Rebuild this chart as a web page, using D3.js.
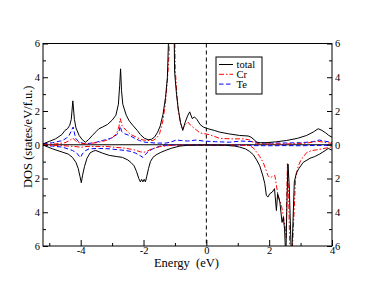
<!DOCTYPE html>
<html>
<head>
<meta charset="utf-8">
<script src="https://cdn.jsdelivr.net/npm/d3@7"></script>
<style>
  body { margin: 0; background: #fff; }
  svg { display: block; font-family: "Liberation Serif", "DejaVu Serif", serif; }
</style>
</head>
<body>
<svg id="chart" width="374" height="289"></svg>
<script>
/* ── data: [energy (eV), DOS] pairs; "down" arrays hold spin-down magnitudes ── */
const totalUp = [[-5.2,0.05],[-5.0,0.2],[-4.8,0.35],[-4.6,0.6],[-4.5,0.85],[-4.42,0.95],[-4.35,1.15],[-4.3,1.5],[-4.25,2.6],[-4.2,1.5],[-4.15,1.0],[-4.05,0.55],[-3.95,0.3],[-3.85,0.15],[-3.75,0.3],[-3.63,0.55],[-3.5,0.8],[-3.42,0.95],[-3.3,1.05],[-3.15,1.2],[-3.0,1.45],[-2.88,1.75],[-2.8,2.4],[-2.76,3.5],[-2.73,4.5],[-2.7,3.2],[-2.66,2.4],[-2.55,1.75],[-2.45,1.4],[-2.34,1.15],[-2.2,0.85],[-2.1,0.6],[-1.97,0.38],[-1.85,0.3],[-1.75,0.32],[-1.65,0.45],[-1.55,0.75],[-1.47,1.1],[-1.38,1.8],[-1.3,2.8],[-1.24,4.0],[-1.2,6.5],[-1.17,9],[-1.12,7.5],[-1.07,8],[-1.04,9],[-1.01,4.3],[-0.95,3.0],[-0.9,2.2],[-0.82,1.3],[-0.75,0.85],[-0.68,1.3],[-0.6,1.7],[-0.53,1.95],[-0.45,1.55],[-0.38,1.65],[-0.3,1.5],[-0.2,1.2],[-0.1,1.05],[0.05,0.95],[0.25,0.85],[0.42,0.75],[0.7,0.65],[1.06,0.55],[1.33,0.52],[1.42,0.45],[1.52,0.3],[1.62,0.12],[1.9,0.12],[2.2,0.17],[2.55,0.25],[2.9,0.38],[3.19,0.55],[3.4,0.75],[3.56,0.95],[3.68,0.85],[3.8,0.7],[3.9,0.55],[4.0,0.45]];
const crUp = [[-5.2,0.02],[-4.8,0.05],[-4.5,0.12],[-4.35,0.25],[-4.25,0.4],[-4.15,0.2],[-4.0,0.08],[-3.8,0.05],[-3.5,0.12],[-3.2,0.25],[-3.0,0.4],[-2.85,0.7],[-2.78,1.1],[-2.74,1.55],[-2.68,1.1],[-2.55,0.85],[-2.4,0.6],[-2.23,0.45],[-2.05,0.3],[-1.9,0.25],[-1.7,0.25],[-1.58,0.4],[-1.49,0.65],[-1.38,1.45],[-1.3,2.5],[-1.24,3.8],[-1.19,5.3],[-1.16,8],[-1.1,6.5],[-1.06,7.5],[-1.02,8],[-0.99,4.5],[-0.94,3.0],[-0.88,1.8],[-0.8,1.1],[-0.75,0.95],[-0.67,1.2],[-0.59,1.35],[-0.5,1.15],[-0.4,1.0],[-0.3,0.85],[-0.2,0.7],[0.1,0.6],[0.42,0.38],[0.8,0.35],[1.17,0.35],[1.35,0.3],[1.49,0.15],[1.6,0.06],[2.0,0.05],[2.6,0.05],[3.2,0.1],[3.55,0.2],[3.75,0.15],[4.0,0.08]];
const teUp = [[-5.2,0.05],[-4.9,0.12],[-4.58,0.25],[-4.45,0.4],[-4.37,0.55],[-4.28,0.9],[-4.24,1.05],[-4.2,0.7],[-4.16,0.38],[-4.05,0.15],[-3.9,0.08],[-3.73,0.08],[-3.5,0.15],[-3.31,0.25],[-3.1,0.35],[-2.99,0.42],[-2.85,0.6],[-2.78,0.8],[-2.74,1.1],[-2.7,0.8],[-2.6,0.65],[-2.45,0.55],[-2.3,0.4],[-2.13,0.25],[-1.95,0.15],[-1.6,0.1],[-1.28,0.1],[-1.1,0.18],[-0.96,0.28],[-0.8,0.25],[-0.6,0.22],[-0.32,0.28],[-0.1,0.22],[0.3,0.18],[0.74,0.15],[1.1,0.22],[1.5,0.18],[1.8,0.1],[2.4,0.1],[3.0,0.12],[3.4,0.18],[3.6,0.28],[3.8,0.2],[4.0,0.15]];

const totalDown = [[-5.2,0.02],[-4.9,0.24],[-4.58,0.44],[-4.4,0.55],[-4.26,0.75],[-4.15,1.05],[-4.08,1.4],[-4.02,1.9],[-3.98,2.25],[-3.94,1.8],[-3.88,1.3],[-3.8,0.8],[-3.7,0.48],[-3.6,0.38],[-3.52,0.34],[-3.3,0.5],[-3.09,0.63],[-2.85,0.7],[-2.67,0.75],[-2.5,0.9],[-2.4,1.05],[-2.3,1.25],[-2.22,1.6],[-2.15,2.0],[-2.1,2.2],[-2.06,2.05],[-2.02,2.2],[-1.98,2.05],[-1.94,2.2],[-1.9,1.9],[-1.84,1.4],[-1.78,1.0],[-1.7,0.75],[-1.6,0.6],[-1.45,0.45],[-1.28,0.32],[-1.1,0.2],[-0.85,0.08],[-0.6,0.03],[0,0.02],[0.6,0.03],[0.9,0.08],[1.06,0.14],[1.25,0.25],[1.38,0.4],[1.5,0.6],[1.6,0.9],[1.7,1.25],[1.8,1.85],[1.86,2.3],[1.91,3.0],[1.96,3.1],[2.02,2.9],[2.1,2.8],[2.17,2.6],[2.23,3.9],[2.27,2.9],[2.34,3.4],[2.41,4.6],[2.45,4.3],[2.49,5.0],[2.53,6.8],[2.57,3.0],[2.6,1.15],[2.64,2.5],[2.68,5.0],[2.71,7],[2.75,5],[2.8,2.2],[2.87,1.65],[2.95,1.4],[3.08,1.05],[3.3,0.8],[3.45,0.7],[3.61,0.55],[3.78,0.35],[3.88,0.22],[4.0,0.32]];
const crDown = [[-5.2,0.02],[-4.6,0.05],[-4.2,0.1],[-4.0,0.15],[-3.8,0.1],[-3.2,0.1],[-2.6,0.2],[-2.3,0.3],[-2.1,0.42],[-2.0,0.45],[-1.9,0.4],[-1.75,0.25],[-1.5,0.12],[-1.2,0.05],[-0.8,0.02],[0.5,0.02],[1.0,0.02],[1.38,0.05],[1.5,0.2],[1.6,0.44],[1.7,0.7],[1.81,1.05],[1.9,1.5],[1.96,1.82],[2.02,1.95],[2.07,1.92],[2.12,1.85],[2.18,1.82],[2.23,2.4],[2.28,3.0],[2.34,3.3],[2.39,3.6],[2.45,4.2],[2.5,4.8],[2.54,5.5],[2.58,1.12],[2.62,3.0],[2.66,6.5],[2.72,7],[2.78,4.5],[2.84,2.0],[2.92,1.3],[3.0,0.95],[3.08,0.73],[3.2,0.45],[3.35,0.35],[3.51,0.3],[3.7,0.24],[3.85,0.18],[4.0,0.12]];
const teDown = [[-5.2,0.02],[-4.9,0.08],[-4.58,0.14],[-4.26,0.34],[-4.12,0.5],[-4.04,0.7],[-4.0,0.75],[-3.95,0.55],[-3.85,0.35],[-3.73,0.24],[-3.4,0.22],[-3.09,0.24],[-2.8,0.3],[-2.56,0.34],[-2.4,0.4],[-2.25,0.5],[-2.1,0.65],[-2.02,0.75],[-1.95,0.6],[-1.85,0.4],[-1.7,0.24],[-1.5,0.1],[-1.38,0.04],[-1.0,0.02],[0,0.02],[1.0,0.03],[1.5,0.05],[2.0,0.06],[2.5,0.05],[3.0,0.06],[3.5,0.04],[4.0,0.03]];

const xMajor = [-4, -2, 0, 2, 4];
const xMinor = [-5, -3, -1, 1, 3];
const yMajor = [-6, -4, -2, 0, 2, 4, 6];
const yMinor = [-5, -3, -1, 1, 3, 5];
const legendItems = ["total", "Cr", "Te"];

/* ── layout ── */
const svg = d3.select("#chart");
const L = 43, R = 332, T = 43.5, B = 246;

const x = d3.scaleLinear().domain([-5.2, 4]).range([L, R]);
const y = d3.scaleLinear().domain([-6, 6]).range([B, T]);

const styles = {
  total: { color: "#000", dash: null },
  Cr:    { color: "#ff0000", dash: "5,2,1.5,2" },
  Te:    { color: "#0000ff", dash: "4.5,2.5" }
};

svg.append("clipPath").attr("id", "clip")
   .append("rect").attr("x", L).attr("y", T).attr("width", R - L).attr("height", B - T);

const plot = svg.append("g").attr("clip-path", "url(#clip)");

// reference lines
plot.append("line")
    .attr("x1", x(0)).attr("x2", x(0)).attr("y1", T).attr("y2", B)
    .attr("stroke", "#000").attr("stroke-dasharray", "4,3");
plot.append("line")
    .attr("x1", L).attr("x2", R).attr("y1", y(0)).attr("y2", y(0))
    .attr("stroke", "#000");

const lineUp   = d3.line().x(d => x(d[0])).y(d => y(d[1]));
const lineDown = d3.line().x(d => x(d[0])).y(d => y(-d[1]));

const series = [
  [teUp, lineUp, "Te"], [teDown, lineDown, "Te"],
  [crUp, lineUp, "Cr"], [crDown, lineDown, "Cr"],
  [totalUp, lineUp, "total"], [totalDown, lineDown, "total"]
];
series.forEach(([data, gen, key]) => {
  plot.append("path")
      .datum(data)
      .attr("fill", "none")
      .attr("stroke", styles[key].color)
      .attr("stroke-width", 1)
      .attr("stroke-dasharray", styles[key].dash)
      .attr("d", gen);
});

/* ── axes: inward ticks, unsigned labels ── */
const fmt = d => Math.abs(d);
function styleAxis(g) {
  g.select(".domain").remove();
  g.selectAll("line").attr("stroke", "#000");
  g.selectAll("text").attr("fill", "#000").style("font-size", "10.5px")
   .style("font-family", "Liberation Serif, serif");
}

svg.append("g").attr("transform", `translate(${L},0)`)
   .call(d3.axisLeft(y).tickValues(yMajor).tickSize(-5).tickPadding(3).tickFormat(fmt)).call(styleAxis);
svg.append("g").attr("transform", `translate(${L},0)`)
   .call(d3.axisLeft(y).tickValues(yMinor).tickSize(-3).tickFormat("")).call(styleAxis);
svg.append("g").attr("transform", `translate(${R},0)`)
   .call(d3.axisRight(y).tickValues(yMajor).tickSize(-5).tickPadding(3).tickFormat(fmt)).call(styleAxis);
svg.append("g").attr("transform", `translate(${R},0)`)
   .call(d3.axisRight(y).tickValues(yMinor).tickSize(-3).tickFormat("")).call(styleAxis);
svg.append("g").attr("transform", `translate(0,${B})`)
   .call(d3.axisBottom(x).tickValues(xMajor).tickSize(-6).tickPadding(1).tickFormat(d => String(d))).call(styleAxis);
svg.append("g").attr("transform", `translate(0,${B})`)
   .call(d3.axisBottom(x).tickValues(xMinor).tickSize(-3).tickFormat("")).call(styleAxis);

// frame
svg.append("rect")
   .attr("x", L).attr("y", T).attr("width", R - L).attr("height", B - T)
   .attr("fill", "none").attr("stroke", "#000");

/* ── labels ── */
svg.append("text")
   .attr("x", (L + R) / 2 - 1).attr("y", 267)
   .attr("text-anchor", "middle")
   .style("font-size", "12.5px")
   .attr("xml:space", "preserve")
   .text("Energy  (eV)");

svg.append("text")
   .attr("transform", `translate(32,${(T + B) / 2 - 8}) rotate(-90)`)
   .attr("text-anchor", "middle")
   .style("font-size", "12.5px")
   .text("DOS (states/eV/f.u.)");

/* ── legend ── */
const lg = svg.append("g").attr("transform", "translate(216,57)");
lg.append("rect").attr("width", 46).attr("height", 37)
  .attr("fill", "#fff").attr("stroke", "#000");
legendItems.forEach((k, i) => {
  const yy = 7.5 + i * 9.8;
  lg.append("line")
    .attr("x1", 3).attr("x2", 17).attr("y1", yy).attr("y2", yy)
    .attr("stroke", styles[k].color)
    .attr("stroke-dasharray", styles[k].dash);
  lg.append("text")
    .attr("x", 20.5).attr("y", yy + 3.6)
    .style("font-size", "10.5px")
    .text(k);
});
</script>
</body>
</html>
